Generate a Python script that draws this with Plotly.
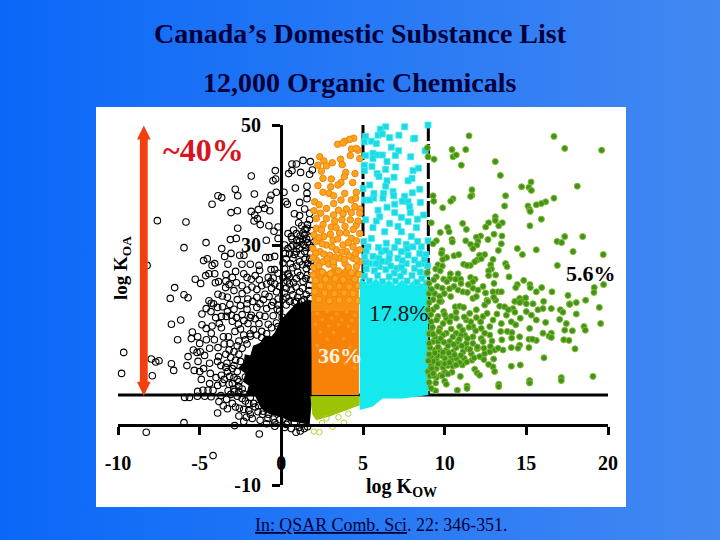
import plotly.graph_objects as go
import urllib.parse

# open black circles: (log Kow, log Koa)
black_pts = [(-7.59,34.06),(-5.84,33.83),(-5.96,29.56),(-4.61,30.4),(-3.65,29.4),(-4.24,36.8),(-3.88,38.2),(-3.65,37.9),(-2.82,39.3),(-2.67,38.2),(-1.65,38.5),(-1.84,41.5),(-0.37,42.4),(-0.51,40.7),(-0.35,41.0),(0.65,43.5),(0.92,43.5),(1.33,44.1),(1.78,43.9),(1.9,42.5),(1.73,41.8),(1.18,42.1),(0.65,42.4),(0.45,41.9),(0.86,39.5),(1.57,39.8),(-0.31,38.8),(0.16,38.8),(-0.63,38.3),(-0.71,37.5),(-1.16,36.8),(-1.02,36.1),(-0.71,35.7),(-1.41,35.9),(-1.84,35.6),(-1.63,35),(-3.08,35.4),(-2.69,35.7),(-1.67,34),(-1.47,34.4),(-1.29,33.4),(-2.67,32.8),(-0.76,33.2),(-0.45,32.3),(-0.2,33),(0.27,37.2),(0.37,36.8),(1.12,37.1),(1.57,38.6),(1.57,37.7),(1.43,36),(0.8,35.2),(1.12,34.9),(1.73,35.3),(1.06,33.7),(1.73,34.2),(1.57,32.8),(0.92,31.9),(1.43,31.7),(0.41,31.9),(0.61,31.4),(-0.2,31.1),(-0.92,30.8),(-3.12,30.9),(-2.76,31.1),(-3.08,28.6),(-3.47,28.1),(-3.27,26.8),(-2.55,28.3),(-2.29,28.3),(-4.08,26.9),(-4.24,26.6),(-4.76,27.4),(-4.53,27.7),(-5.27,24.3),(-4.94,23.6),(-4.63,24.9),(-4.43,25.2),(-4.08,25.2),(-3.39,25.1),(-4.04,23.7),(-3.84,23.9),(-3.2,23.4),(-3.41,22.9),(-2.75,23.7),(-2.41,26.8),(-1.9,26.8),(-1.37,26.6),(-1.84,24.3),(-1.33,25.8),(-0.63,25.9),(-0.41,25.9),(-0.96,27.9),(-0.71,27.9),(-0.41,28.1),(-6.53,22.9),(-6.8,21.1),(-5.96,21.7),(-5.71,21.2),(-4.43,20.7),(-3.88,21.8),(-3.61,21.5),(-8.22,26.6),
(0.51,24.7),(0.41,25),(0.92,24.4),(1.33,23.9),(1.73,23.3),(0.31,22.8),(0.71,21.7),(1.12,22.2),(1.53,21.7),(0.92,20.6),(0.51,20.6),(0.71,30),(1.12,30.6),(1.43,28.9),(1.73,27.8),(0.92,28.9),(0.41,29.4),(0.71,27.8),(1.12,27.2),(1.53,26.1),(1.73,30),(1.33,32),(1.6,30.4),(0.2,30),(0.1,27),(-0.9,23.5),(-0.6,22.8),(-0.3,22.2),(-1,21.8),(-1.5,22.6),(-1.1,20.9),(-0.5,20.5),(-2.1,22.5),(-2.4,21.9),(-2.05,21),
(-9.65,12.1),(-9.78,8.6),(-7.9,8.2),(-7.96,11),(-7.69,10.5),(-7.49,10.7),(-6.73,16.8),(-6.16,17.5),(-6.35,14.2),(-6.73,10.2),(-6.59,9.1),(-5.78,9.9),(-5.71,11.4),(-5.45,15.5),(-5.51,14.4),(-5.12,14.7),(-4.86,18.5),(-4.86,16.7),(-4.31,18.9),(-4.02,17.9),(-3.67,18.1),(-3.37,18.1),(-3.06,18.3),(-3,17.3),(-4.24,16.5),(-3.67,16.2),(-4.29,15.3),(-4.59,14.2),(-4.39,12.8),(-3.88,12.9),(-5.39,12.5),(-5.16,12.1),(-4.96,12.2),(-5.33,9.1),(-5,8.9),(-4.76,9.4),(-4.35,8.6),(-3.84,11.4),(-3.33,10.3),(-4.39,10.3),(-3.55,14.7),(-3.24,14.7),(-2.63,16.8),(-2.84,15.6),(-3.14,13.6),(-2.04,16.9),(-1.84,18.3),(-1.37,16.9),(-1.33,18.3),(-4.29,20.3),(-4.15,20.2),(-5.12,5.6),(-4.39,6.9),(-4.18,5.8),(-4.8,5.8),(-4.49,5.8),(-5.92,4.6),(-5.63,4.6),(-5.14,4.8),(-4.69,4.8),(-3.82,3.9),(-3.35,4.3),(-3,3.6),(-2.57,2.8),(-3.26,5.7),(-2.86,5.6),(-3.67,8.3),(-3.16,8.1),(-2.14,1.3),(-1.9,1.8),(-1.78,1.1),(-2.86,-0.1),(-5.96,0.4),(-8.27,-1.2),(-4.18,-5.1),(-1.35,-1.5),(-0.82,1.1),(-1.43,2.2),(0.61,-0.6),(1.16,-1),(1.1,-0.4),(0.3,0.1),
(-2.3,15),(-1.9,14.8),(-2.1,13.5),(-2.6,14),(-2.9,12.2),(-3.1,11.3),(-2.8,10.8),(-3,9.4),(-3.3,8.9),(-2.7,7.6),(-3,6.9),(-2.6,5.6),(-2.4,4.4),(-2,3.6),(-1.6,3),(-1.15,1.8),(-0.4,0.4),(-1.2,15.6),(-0.8,16.8),(-0.5,18.2),(-0.1,19),(-0.3,17),(0.1,21),(-1.7,15.9),(-2.5,16),(-3.6,7),(-3.2,12.5),(-3.5,13.5),(-2.4,18.4),(-2.1,19.3),(-1.5,19.6),(-0.9,19.4),
(-3.4,11.8),(-2.9,9.9),(-3.4,9.6),(-3.7,9.9),(-3.5,7.6),(-3.2,6.8),(-2.9,7.9),(-2.7,8.9),(-2.5,10.6),(-2.6,11.8),(-2.4,12.8),(-2.7,13.2),(-2.2,14.2),(-1.9,15.2),(-1.5,15),(-1.2,14.6),(-0.9,15.2),(-0.6,16.2),(-0.2,16.4),(0.05,18),(-0.25,19.3),(0.3,20),(-2.6,6.4),(-2.4,6),(-2.7,4.8),(-2.2,4),(-1.9,4.6),(-1.7,3.6),(-1.4,3.2),(-1.1,2.3),(-0.8,1.8),(-0.5,1),(-0.1,0.9),(0.4,0.4),(0.8,0.3),(1.3,0.2),(-2.3,5.2),(-2.6,7.2),(-2.2,8),(-2.9,6),(-3.1,5.1),(-2.3,2.6),(-2.8,3),(-2,2.4),(-1.3,0.8),(-0.9,0.2),(-0.4,-0.2),(0.2,-0.4),(1.4,-0.6),(0.9,-1.2),(1.6,-0.3),
(0.2,26),(0.4,25.2),(0.7,26.2),(1,25.5),(1.3,26.7),(1.6,25),(1.8,24.2),(0.5,23.5),(0.9,23),(1.3,22.8),(1.7,22.4),(0.3,21.3),(0.6,22.5),(1.0,21.3),(1.4,20.9),(1.75,21.1),(1.8,26.5),(1.45,27.6),(1.2,28.5),(1.8,28.6),(1.5,29.6),(1.1,29.4),(0.8,28.4),(0.5,28.5),(0.3,27.7),(1.75,31.3),(1.3,30.9),(0.95,30.8),(0.65,31),(1.6,33.4),(1.25,33.2),(-0.5,24.5),(-0.2,25.3),(-0.4,23.5),(-0.8,24.6),(-1.2,23.2),(-1.5,21.3),(-0.75,21.4),(-0.2,21),(-1.8,23),(-2.4,23.2),
(0.15,23.8),(0.35,24),(0.75,23.7),(1.15,24.9),(1.5,24.4),(1.85,25.5),(0.55,26.9),(0.95,26.5),(1.6,26.9),(1.85,27.4),(0.25,28.6),(0.6,29.7),(0.95,29.9),(1.35,30.1),(1.85,29.6),(1.55,31),(1.15,31.5),(0.75,32.5),(1.45,32.6),(1.85,32.4),(0.1,24.6),(0.2,22),(0.8,20.4),(1.25,20.6),(1.6,20.3),(-0.1,23.1),(-0.65,23.9),(-1.35,24.2),(-1.6,24.9),(-2.1,24.6),(-2.3,25.2),(-2.8,25.6),(-3,24.6),(-3.4,24),(-2.9,22.4),(-3.3,21.3),(-3.15,20.1),(-2.7,20.9),(-3.6,19.7),(-2.9,19.3),(-2.5,19.9),(-3.3,18.9),(-2.1,20.2),(-1.75,20.6),(-1.3,20.2),(-2.75,17.9),(-2.3,17.4),(-1.9,17.9),(-1.6,17.7),(-1,18.1),(-0.6,19.9),(-0.2,20),(-3.9,19.6),(-4.6,19.4),(-3.8,16.9),(-4.6,16.1),(-5,13.6),(-4.1,14.2),(-3.9,10.6),(-4.7,11.6),(-5.1,10.6),(-4,7.9),(-3.9,6.6),(-4.3,4.7),(-3.7,4.9),(-4.9,7.6),(-3.55,3.2),(-2.3,0.6),(-3.3,2.7),(-3.9,2),(-2.6,1.5)]

# filled-in core of the black cloud, where circles merge
black_core_x = [1.84,0.92,0.6,0.31,-0.05,-0.41,-0.6,-1.02,-1.3,-1.73,-1.9,-2.24,-2.3,-2.65,-2.2,-2.35,-2,-2.14,-1.6,-1.33,-1.1,-0.71,-0.3,0.1,0.5,0.92,1.73,1.9]
black_core_y = [20.8,20.3,19.4,18.6,17.4,15.4,14.8,14.9,13.7,13.2,11.6,11.8,10.4,9.5,8.6,7.2,6.6,5.2,4.8,3.2,2.4,1.8,1.5,1.2,0.6,0.5,0,5]

orange_pts = [(4.43,47.8),(4.18,47.6),(3.88,47.3),(3.45,46.8),(3.78,47),(4.69,45.8),(4.29,46),(4.59,46.1),(4.22,44.9),(3.63,44.3),(2.35,44.7),(2.61,44),(2.24,43.3),(2.76,43.2),(3.12,43.7),(3.73,43.4),(4.8,44.4),(2.45,42.3),(3.94,42.1),(4.51,41.9),(2.55,41.1),(3.06,41),(3.86,41.4),(3.65,40.4),(4.37,40.4),(3.47,40),(2.24,39.9),(3.02,39.7),(2.55,38.8),(2.92,38.6),(3.2,38.2),(3.88,38.6),(4.59,38.8),(3.65,37.5),(4.29,37.5),(4.55,37.8),(2.04,37.2),(2.31,36.7),(2.76,36.1),(3.2,36.9),(3.98,36),(4.8,36),(2.14,34.4),(2.76,34.4),(3.2,35),(3.78,35.2),(4.29,35.4),(4.8,35.3),(2.55,33.4),(3.27,34),(3.71,34.2),(4.22,34.2),(3.06,33),(2.14,32.8),(4.59,33.3),(3.57,32),(2.61,31.4),(3.98,32),(4.29,31.1),(4.8,31.9),(3.16,30.8),(2.14,30.6),(2.76,30),(3.78,30),(4.39,29.7),(1.94,29.4),(3.37,29.2),(2.35,28.9),(4.8,29.2),(3.98,28.9),(2.96,28.3),(3.57,27.8),(2.14,27.5),(4.39,27.8),(2.55,27.2),(4.8,27.2),
(2.0,26.2),(2.3,26.5),(2.9,26.8),(3.2,26.6),(3.9,26.9),(4.1,26.3),(4.6,26.4),(1.95,25),(2.5,25.5),(3.0,25.2),(3.5,25.7),(4.3,25.4),(4.75,25.1),(2.1,24.1),(2.7,24.3),(3.3,24.4),(3.8,24.2),(4.5,24.3),(2.4,23.2),(2.95,23),(3.55,23.1),(4.15,23),(4.7,23.2),(2.05,22.2),(2.65,22),(3.25,21.9),(3.85,22),(4.4,21.9),(2.3,20.9),(2.95,20.7),(3.55,20.8),(4.15,20.8),(4.7,20.7),
(2.0,31.7),(2.3,31.2),(3.0,31.8),(3.45,31),(4.6,30.7),(4.1,30.4),(2.5,30.2),(3.1,29.7),(3.7,28.8),(4.55,28.6),(4.15,28.2),(2.6,28.5),(2.1,28.6),(3.3,28),(2.8,27.7),(3.85,27.6),(4.6,27.6),(1.95,27.9),(3.2,27.2),(2.45,32.5),(3.9,33.1),(4.7,34),(2.0,35.7),(2.4,35.3),(3.5,35.8),(4.5,36.4),(3.35,32.9),(4.4,32.6)]
orange_upper_x = [1.85,4.75,4.75,4.4,4.0,3.6,3.2,2.8,2.4,1.85]
orange_upper_y = [19,19,26.4,25.5,26.6,25.4,26.3,25.5,26.5,25.5]
orange_core_x = [1.85,4.75,4.75,1.85]
orange_core_y = [5,5,19.5,19.5]
orange_speck_pts = [(2.2,18.6),(2.8,18.9),(3.4,18.5),(4.0,18.8),(4.5,18.3),(2.5,17.6),(3.1,17.8),(3.7,17.5),(4.3,17.4),(2.1,16.8),(2.9,16.5),(3.5,16.7),(4.1,16.4),(2.4,15.5),(3.2,15.4),(4.4,15.6),(2.8,14.3),(3.8,14.4),(2.2,13.2),(4.2,13),(3.1,12),(2.5,10.5),(3.9,10.2),(4.5,9.5)]

# pale green block and stray open circles beneath the orange
lime_x = [1.78,4.8,4.8,3.78,2.96,2.14,1.9]
lime_y = [4.8,4.8,3.3,2.2,1.4,0.8,1.7]
lime_open_pts = [(2.0,-1.1),(2.33,-1.2),(3.14,-0.3),(3.84,0.4),(2.49,0.3),(2.76,1.1),(4.1,1.9),(3.5,1.3)]

cyan_pts = [(8.98,50),(6.39,49.7),(6.06,49.3),(7.55,49.7),(5.16,48.1),(5.92,48.3),(6.18,48.5),(6.63,47.9),(7.2,48.3),(8.1,47.7),(8.16,47.8),(5.51,47.3),(5.08,47.2),(5.82,46.9),(6.73,46.3),(7.18,45.7),(8.8,45.7),(5.16,44.9),(5.61,45.3),(5.92,45),(6.18,45),(6.98,44.9),(7.92,44.7),(5.61,44.4),(6.47,43.9),(5.08,43.3),(5.55,43.1),(7,43),(6.39,42.6),(8.39,42.8),(8.06,42.4),(5.1,42.4),(5.86,41.9),(5.98,41.4),(6.9,41.3),(8.0,41.1),(7.76,40.7),(6.47,40.7),(5.41,40),(6.39,39.8),(5.0,39.4),(8.47,39.3),(6.84,38.9),(8.02,38.7),(5.67,38.6),(6.26,38.6),(6.88,38.2),(7.55,38.1),(5.65,37.8),(6.22,37.8),(5.1,37.5),(5.41,37.5),(7.41,37.3),(7.76,37.2),(8.51,37.1),(6.94,36.8),(7.86,36.4),(6.47,36.3),(5.92,35.8),(6.94,35.4),(7.9,35.4),(8.71,35),(7.35,34.6),(8.33,34.3),(5.16,34.2),(6.02,34.7),(5.82,34),(6.63,33.6),(7.76,33.9),(7.14,33.1),(8.27,32.9),(5.61,32.9),(6.33,32.2),(7.35,32.2),(5.51,31.1),(7.96,31.4),(7.14,30.6),(6.43,30.3),(8.98,30.7),(7.65,30.1),(5.31,29.7),(6.94,29.6),(8.57,29.7),(8.06,29.7),(6.12,28.9),(6.63,28.6),(7.35,28.9),(8.47,28.6),(5.61,28.1),(7.76,28.3),(5.98,27.8),(7.14,27.8),(8.16,27.5),(6.53,27.2),(5.41,26.9),(7.65,26.9),(8.67,26.9),(6,26.4),(7.04,26.1),(8.16,26.1),
(5.2,26),(5.7,25.7),(6.4,25.9),(6.9,25.3),(7.5,25.6),(8.5,25.5),(8.9,25.2),(5.1,24.8),(5.9,24.9),(6.6,24.7),(7.3,24.8),(8,24.9),(8.6,24.4),(5.4,24),(6.2,23.9),(7,24),(7.7,24),(8.3,23.8),(8.9,23.6),
(5.05,30.6),(5.2,29),(5.95,29.6),(6.4,29.1),(7.7,29.4),(8.35,30.6),(8.85,28.4),(5.1,28),(6.6,27.8),(7.4,27.4),(8.75,27.6),(5.2,27.1),(6.15,27.3),(8.95,26.5),(7.35,26.3),(5.8,26.9),(8.4,26.8),(6.7,26.5)]
cyan_core_x = [4.8,5.6,6.2,7.5,9,9,8.6,8.2,7.8,7.4,7,6.6,6.2,5.8,5.4,4.8]
cyan_core_y = [2.5,3.1,4.4,4.4,5,24.5,23.5,24.4,23.3,24.2,23.2,24.2,23.3,24.4,23.4,24.4]

green_pts = [(11.49,48.2),(16.69,48.1),(17.35,46.1),(19.61,45.8),(10.45,45.9),(11.29,45.9),(8.94,46.2),(8.98,44.7),(9.35,44.3),(10.51,44.7),(10.71,45),(11.02,43.3),(13.1,43.9),(13.41,41.6),(15.29,40.5),(14.71,39.7),(15.16,39.6),(15.31,39.1),(18.12,39.8),(11.67,39.2),(11.67,38.3),(11.59,38.1),(9.29,38.2),(9.33,37.3),(13.73,38.2),(13.67,36.5),(10.51,37.7),(10.37,37.3),(9.88,36.2),(16.69,37.8),(16.18,37.2),(15.92,36.9),(15.61,36.7),(15.1,36.5),(15.2,35.9),(15.24,35.6),(15.92,34.3),(15.22,33.2),(13.1,34.7),(13.1,34.1),(13.53,33.7),(13.31,33.2),(12.69,33.7),(12.51,33),(11.1,33.6),(11.33,32.6),(9.18,33.7),(10.18,32.9),(10.27,32.2),(9.73,32.1),(13.02,31.8),(12.2,31.5),(11.94,31.3),(12.65,30.9),(13.51,31.5),(10.45,30.9),(10.47,30.5),(11.29,30.7),(9.49,30.7),(9.29,30.2),(13.47,30.2),(11.59,30.1),(12.04,30.6),(11.98,30),(11.73,29.4),(17.35,31.4),(18.45,31.4),(16.88,30.6),(17.16,30.4),(17.86,28.9),(19.71,28.4),(15.61,29.2),(14.45,29.4),(14.76,28.4),(13.29,29.1),(9.84,29.1),(9.8,28.6),(10.12,27.9),(9.88,27.6),(10.57,28.2),(10.86,28.4),(12.45,28.4),(12.14,28.3),(12,27.5),(12.96,27.6),(12.24,27.7),(11.84,27.2),(11.57,26.6),(11.16,26.8),(11.37,26.6),(13.73,26.9),(13.82,26.4),(12.82,26.7),(12.86,26),(12.69,25.7),(9.59,26.7),(9.86,26.5),(9.45,26),(9.73,25.7),(16.9,26.6),(8.94,25.4),(10.35,25.2),(10.82,25.2),(9.49,24.7),(9.33,24.2),(9.04,23.6),(9.94,24.3),(10.31,24.4),(10.14,23.9),(10.67,24.3),(10.98,24.3),(11.59,24.6),(11.86,24.3),(11.73,23.9),(12.69,24.9),(13.12,25),(13.94,24.7),(14.84,24.1),(13.02,23.6),(12.35,23.1),(10.57,23.1),(10.82,22.5),(11.12,22.2),(11.39,22.1),(11.73,22.8),(12.04,22.5),(14.45,23.4),(14.35,22.9),(15.22,23.4),(15.24,22.9),(15.94,22.9),(15.61,22.2),(16.57,22.2),(19.16,22.9),(19.73,23.4),(19.14,22.1),(17.55,21.6),(9.04,21.9),(9.39,21.9),(9.69,21.4),(9.98,21.9),(10.37,21.4),(9.29,20.9),(9.8,20.6),(11.73,21.1),(11.94,21.4),(12.96,22.2),(13.27,22.2),(13.47,22.2),(12.59,20.8),(13.12,20.8),(14.29,20.6),(14.59,21.1),(14.96,21.2),(14.69,20.6),(16.06,20.6),(17.65,20.2),(18.06,20.4),(18.63,20.8),
(19.47,19.6),(19.55,16.9),(18.06,18.5),(17.65,20.1),(17.08,19.2),(17.24,18.8),(17.04,17.6),(17.45,16.9),(17.35,15.8),(17.82,15.7),(18.53,16.4),(18.61,15.8),(17.29,14.2),(17.61,14.1),(17.98,12.7),(16.08,11.2),(19.08,8.1),(17.14,7.9),(17.14,7.4),(15.2,7.4),(15.2,7),(13.31,6.8),(13.31,6.4),(11.37,6.5),(11.37,6.1),(10.78,5.8),(9.45,5.7),(9.18,6.1),(9.49,7.9),(9.45,7.0),(10,7.3),(10.1,6.8),(10,8.8),(10.45,8.8),(10.2,8.5),(10.96,8.1),(11.84,9.3),(11.98,8.7),(12.14,8.3),(12.96,9.7),(13.06,8.9),(12.69,10.1),(14.08,9.8),(14.63,10),(11.08,10),(11.67,10.8),(11.2,11.1),(9.69,10.3),
(9.69,20.6),(10.65,19.7),(10.92,19.8),(11.16,19.6),(9.29,19.2),(9.94,18.9),(11.53,18.6),(11.94,19.2),(12.45,20),(12.65,20.6),(13.37,19.8),(13.67,19.7),(14.18,19.4),(14.59,20.4),(15,20.2),(15.41,20.2),(15.71,19.2),(16.02,19.4),(16.53,19.4),(15.31,18.3),(15.61,17.5),(16.18,17.1),(15.2,16.1),(13.78,18.3),(12.96,17.5),(12.35,18.1),(11.94,17.9),(10.41,18.1),(10.1,17.8),(9.59,18.1),(10.71,17.8),(11.33,17.5),(11.73,16.4),(12.24,16.1),(12.76,16.4),(13.47,16.9),(14.08,17.2),(14.35,16.7),(14.63,17.8),(9.18,17.2),(9.9,16.9),(10.31,17.2),(10.92,16.4),(11.49,16.3),(13.43,15.6),(13.84,15.6),(14.12,15.4),(14.59,14.7),(15.16,14.3),(15.61,14.1),(15.37,14.3),(16.53,15.3),(16.02,15.3),(16.39,14.8),(16.53,14.6),(12.76,15),(12.45,15.3),(12.24,14.4),(11.73,14.7),(11.22,15),(10.71,15.3),(10.1,15.3),(9.9,15),(9.18,15.6),(9.29,13.9),(9.59,13.9),(10.31,13.9),(10.82,13.9),(11.33,13.6),(11.73,13.6),(12.35,13.9),(13.06,12.5),(13.57,12.5),(14.08,12.9),(14.59,13.3),(14.49,12.8),(15.16,12.9),(13.27,12.8),(12.76,12.2),(12.45,11.9),(12.14,11.4),(11.63,11.9),(11.12,12.2),(10.51,12.2),(10.1,12.5),(9.69,12.5),(9.39,12.5),(9.18,11.4),(9.49,11.1),(10,11.1),(10.41,10.8),(10.71,11.1),(9.18,10),(9.49,9.4),(8.98,8.9),
(9.3,10.6),(9.6,10.2),(9.8,11.6),(10.2,9.9),(9.9,9.6),(9.3,9.0),(9.1,12.9),(9.4,14.7),(9.0,10.7),(9.05,7.1),(9.2,9.4),(9.05,13.6),(9.6,13),(10.2,13.2),(10.7,12.9),(11.4,12.7),(10.9,10.4),(9.05,15.2),(9.25,16.3),(9.7,16.1),(9.15,18.4),(9.5,19.7),(8.98,19.2),(9.05,20.4),
(9.1,8.2),(9.75,8.3),(9.55,11.6),(10.35,11.6),(10.0,10.2),(10.5,9.8),(9.35,8.2),(10.7,10),(10.25,12),(11,11.6),(9.95,13.8),(10.55,13.4),(11.05,13.2),(11.55,12.6),(12.0,12.7),(11.8,11.2),(12.4,12.8),(9.75,14.4),(10.5,14.7),(11,15),(11.4,14.4),
(9.2,22.6),(9.55,23.1),(9.85,22.8),(10.3,22.7),(11,23.6),(11.45,23.4),(12.5,22),(13,21.3),(9.5,17.5),(10.0,18.4),(10.7,18.8),(11.2,18),(11.6,17.2),(12.2,17.2),(12.6,18.6),(13.2,18.5),(13.9,19.2),(14.3,18.8),(15,18.9),(9.3,15.1),(9.65,15.6),(10.4,16),(11.1,15.8),(11.9,15.7),(12.9,14),(13.5,14.2),(14.1,14.5),(10.9,14.3),(12,13),(12.8,13.1),(9.4,12),(9.9,12.1),(10.6,11.7),(11.35,10.5),(12.4,10.9),(13,11),(10.3,10.4),(9.05,11.8),(9.3,8.6),(9.85,8.2)]

threshold_y = 5
threshold_x_span = [-10, 20]
split_lines = [(5, 50, 5), (9, 50, 5)]

x_ticks = [-10, -5, 0, 5, 10, 15, 20]
y_ticks = [-10, 30, 50]

arrow_x = [-8.42,-8.0,-8.18,-8.18,-8.0,-8.42,-8.84,-8.66,-8.66,-8.84]
arrow_y = [49.9,47.6,47.6,7.2,7.2,4.85,7.2,7.2,47.6,47.6]

def xs(p): return [a for a, _ in p]
def ys(p): return [b for _, b in p]

W, H = 720, 540
NAVY = "#00003a"
SERIF = "Liberation Serif"

fig = go.Figure()

def poly(x, y, color):
    fig.add_trace(go.Scatter(x=x, y=y, mode="lines", fill="toself", fillcolor=color,
                             line=dict(width=0, color=color), hoverinfo="skip", cliponaxis=False))

fig.add_trace(go.Scatter(x=threshold_x_span, y=[threshold_y]*2, mode="lines",
                         line=dict(color="black", width=3), cliponaxis=False))
for xv, y0, y1 in split_lines:
    fig.add_trace(go.Scatter(x=[xv, xv], y=[y0, y1], mode="lines",
                             line=dict(color="black", width=3, dash="16px,3px"), cliponaxis=False))

poly(black_core_x, black_core_y, "black")
fig.add_trace(go.Scatter(x=xs(black_pts), y=ys(black_pts), mode="markers", cliponaxis=False,
                         marker=dict(symbol="circle-open", size=6.5, color="black", line=dict(width=1.1, color="black"))))
poly(lime_x, lime_y, "#9CC404")
fig.add_trace(go.Scatter(x=xs(lime_open_pts), y=ys(lime_open_pts), mode="markers", cliponaxis=False,
                         marker=dict(symbol="circle-open", size=5.5, color="#B4D23A", line=dict(width=1, color="#B4D23A"))))
poly(orange_core_x, orange_core_y, "#F88208")
poly(orange_upper_x, orange_upper_y, "#FA9010")
fig.add_trace(go.Scatter(x=xs(orange_speck_pts), y=ys(orange_speck_pts), mode="markers", cliponaxis=False,
                         marker=dict(symbol="circle", size=3.5, color="#FB9A1E")))
fig.add_trace(go.Scatter(x=xs(orange_pts), y=ys(orange_pts), mode="markers", cliponaxis=False,
                         marker=dict(symbol="circle", size=6.5, color="#FFA51C", line=dict(width=1, color="#EE8410"))))
poly(cyan_core_x, cyan_core_y, "#16E9EE")
fig.add_trace(go.Scatter(x=xs(cyan_pts), y=ys(cyan_pts), mode="markers", cliponaxis=False,
                         marker=dict(symbol="square", size=6, color="#1FD8E4", line=dict(width=0.8, color="#35EFF0"))))
fig.add_trace(go.Scatter(x=xs(green_pts), y=ys(green_pts), mode="markers", cliponaxis=False,
                         marker=dict(symbol="circle", size=6, color="#3F9420", line=dict(width=1, color="#86B92C"))))
poly(arrow_x, arrow_y, "#F2400D")

svg = ('<svg xmlns="http://www.w3.org/2000/svg" width="720" height="540">'
       '<defs><linearGradient id="g" x1="0" y1="0" x2="1" y2="0">'
       '<stop offset="0" stop-color="#0A68F8"/><stop offset="1" stop-color="#4288F2"/>'
       '</linearGradient></defs><rect width="720" height="540" fill="url(#g)"/></svg>')
bg = "data:image/svg+xml," + urllib.parse.quote(svg)

def note(text, px, py, size, color="black", bold=False, angle=0):
    fig.add_annotation(text=text, x=px/W, y=1-py/H, xref="paper", yref="paper", showarrow=False,
                       xanchor="center", yanchor="middle", textangle=angle,
                       font=dict(family=SERIF, size=size, color=color, weight="bold" if bold else "normal"))

note("Canada’s Domestic Substance List", 360, 33, 28, NAVY, True)
note("12,000 Organic Chemicals", 360, 83, 28, NAVY, True)
note("<u>In: QSAR Comb. Sci</u>. 22: 346-351.", 380.5, 525, 17.9, NAVY)
note("~40%", 203, 150, 32, "#D8141E", True)
note("5.6%", 591, 273, 22, "black", True)
note("17.8%", 398, 313, 23, "#111111")
note("36%", 340, 355, 22, "#FFF3E0", True)
note("log K<sub>OW</sub>", 401, 487, 20, "black", True)
note("log K<sub>OA</sub>", 122, 268, 19, "black", True, -90)

fig.update_layout(
    template="none",
    width=W, height=H, margin=dict(l=0, r=0, t=0, b=0, pad=0), autosize=False,
    showlegend=False, paper_bgcolor="#2A78F4", plot_bgcolor="rgba(0,0,0,0)",
    images=[dict(source=bg, xref="paper", yref="paper", x=0, y=1, sizex=1, sizey=1,
                 sizing="stretch", layer="below", xanchor="left", yanchor="top")],
    shapes=[dict(type="rect", xref="paper", yref="paper", x0=96/W, x1=626/W, y0=1-507/H, y1=1-107/H,
                 fillcolor="white", line_width=0, layer="below")],
    xaxis=dict(domain=[118/W, 608/W], range=[-10, 20], anchor="free", position=(H-425)/H, automargin=False,
               tickvals=x_ticks, ticktext=[str(v) for v in x_ticks], ticks="outside", ticklen=8,
               tickwidth=3, tickcolor="black", showline=True, linecolor="black", linewidth=3,
               showgrid=False, zeroline=False, ticklabelstandoff=11,
               tickfont=dict(family=SERIF, size=20, color="black", weight="bold")),
    yaxis=dict(domain=[(H-485)/H, (H-125)/H], range=[-10, 50], anchor="free", position=281/W, automargin=False,
               tickvals=y_ticks, ticktext=[str(v) for v in y_ticks], ticks="outside", ticklen=8,
               tickwidth=3, tickcolor="black", showline=True, linecolor="black", linewidth=3,
               showgrid=False, zeroline=False, ticklabelstandoff=7,
               tickfont=dict(family=SERIF, size=20, color="black", weight="bold")),
)
fig.write_html("out.html", config={"displayModeBar": False},
               post_script="document.body.style.margin='0';document.body.style.overflow='hidden';")
